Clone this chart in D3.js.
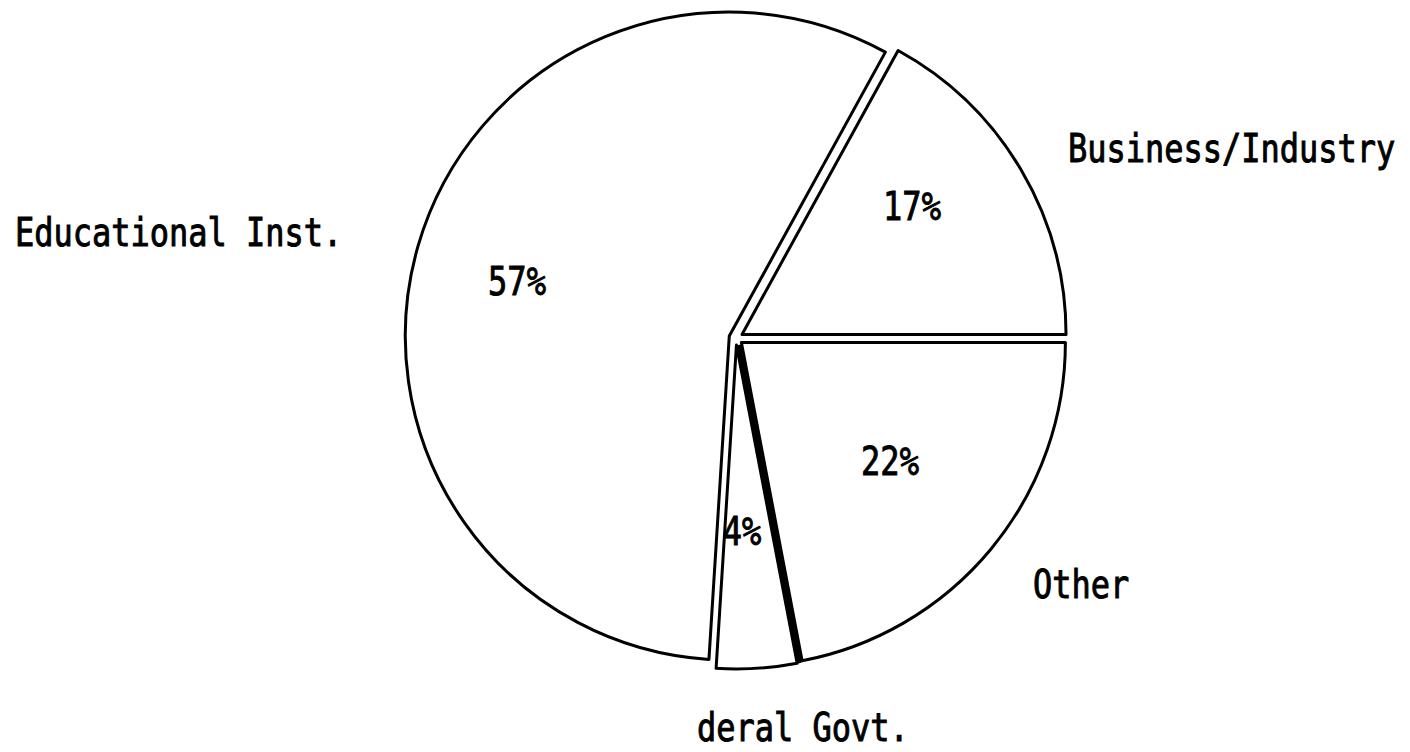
<!DOCTYPE html>
<html>
<head>
<meta charset="utf-8">
<script src="https://cdn.jsdelivr.net/npm/d3@7"></script>
<style>
  html, body { margin: 0; padding: 0; background: #fff; }
  svg text { font-family: "DejaVu Sans Mono", monospace; fill: #000; }
</style>
</head>
<body>
<svg id="chart" width="1410" height="752"></svg>
<script>
// 数据
const categories = ["Business/Industry", "Other", "Federal Govt.", "Educational Inst."];
const shares = [17, 22, 4, 57];
const pctLabels = ["17%", "22%", "4%", "57%"];
// 图上外部标签（联邦政府标签左侧被裁掉）
const outerLabels = ["Business/Industry", "Other", "deral Govt.", "Educational Inst."];

// 布局
const W = 1410, H = 752;
const cx = 736, cy = 338, R = 324, EXPLODE = 7;
const outerPos = [[1068, 162], [1033, 598], [697, 741], [15, 246]];
const pctPos = [[912, 220], [890, 475], [742, 545], [517, 295]];

const svg = d3.select("#chart");

const pie = d3.pie()
    .sort(null)
    .value(d => d)
    .startAngle(28.8 * Math.PI / 180)
    .endAngle(28.8 * Math.PI / 180 + 2 * Math.PI);

const arc = d3.arc().innerRadius(0).outerRadius(R);
const arcs = pie(shares);

const g = svg.append("g").attr("transform", `translate(${cx},${cy})`);

g.selectAll("path.slice")
    .data(arcs)
    .enter()
    .append("path")
    .attr("class", "slice")
    .attr("transform", d => {
        const mid = (d.startAngle + d.endAngle) / 2;
        return `translate(${Math.sin(mid) * EXPLODE},${-Math.cos(mid) * EXPLODE})`;
    })
    .attr("d", arc)
    .attr("fill", "#fff")
    .attr("stroke", "#000")
    .attr("stroke-width", 3)
    .attr("stroke-linejoin", "round");

// 联邦政府扇区右边较粗
const fed = arcs[2];
const fedMid = (fed.startAngle + fed.endAngle) / 2;
const fx = Math.sin(fedMid) * EXPLODE, fy = -Math.cos(fedMid) * EXPLODE;
g.append("line")
    .attr("x1", fx + 2).attr("y1", fy)
    .attr("x2", fx + Math.sin(fed.startAngle) * R + 2)
    .attr("y2", fy - Math.cos(fed.startAngle) * R)
    .attr("stroke", "#000")
    .attr("stroke-width", 5);

// 百分比
svg.selectAll("text.pct")
    .data(pctLabels)
    .enter()
    .append("text")
    .attr("class", "pct")
    .attr("text-anchor", "middle")
    .attr("transform", (d, i) => `translate(${pctPos[i][0]},${pctPos[i][1]}) scale(1,1.2)`)
    .attr("font-size", 32)
    .attr("stroke", "#000")
    .attr("stroke-width", 0.8)
    .text(d => d);

// 类别标签
svg.selectAll("text.cat")
    .data(outerLabels)
    .enter()
    .append("text")
    .attr("class", "cat")
    .attr("transform", (d, i) => `translate(${outerPos[i][0]},${outerPos[i][1]}) scale(1,1.2)`)
    .attr("font-size", 32)
    .attr("stroke", "#000")
    .attr("stroke-width", 0.8)
    .text(d => d);
</script>
</body>
</html>
